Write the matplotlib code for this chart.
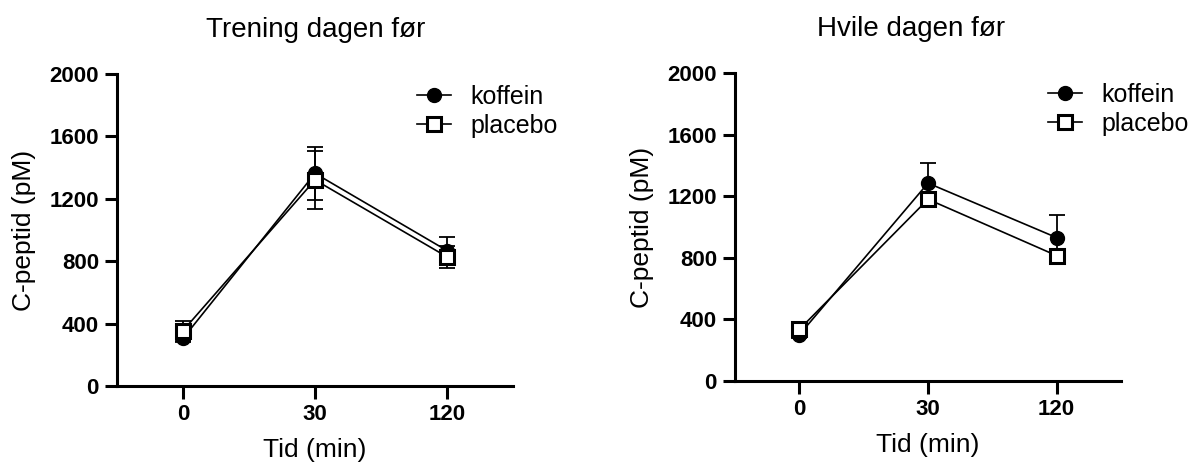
import matplotlib
matplotlib.use("Agg")
import matplotlib.pyplot as plt
import numpy as np

plt.rcParams['font.family'] = ['Liberation Sans', 'DejaVu Sans']

# ---- data ----
time_labels = ["0", "30", "120"]
series_names = ["koffein", "placebo"]

titles = ["Trening dagen før", "Hvile dagen før"]

# Panel 1: Trening dagen før
train_koffein = [305, 1363, 868]
train_koffein_sem = [20, 171, 85]
train_placebo = [355, 1321, 828]
train_placebo_sem = [64, 187, 72]

# Panel 2: Hvile dagen før
rest_koffein = [300, 1285, 931]
rest_koffein_sem = [20, 133, 147]
rest_placebo = [335, 1180, 814]
rest_placebo_sem = [20, 30, 45]

y_ticks = [0, 400, 800, 1200, 1600, 2000]

W, H = 1197, 468
fig = plt.figure(figsize=(W / 100, H / 100), dpi=100)

panels = [
    dict(rect=(117, 74, 513, 386), k=train_koffein, ke=train_koffein_sem,
         p=train_placebo, pe=train_placebo_sem, title=titles[0], tx=0.5025,
         leg=(0.757, 0.965)),
    dict(rect=(735, 73, 1121, 381), k=rest_koffein, ke=rest_koffein_sem,
         p=rest_placebo, pe=rest_placebo_sem, title=titles[1], tx=0.456,
         leg=(0.811, 0.969)),
]

for pn in panels:
    x0, y0, x1, y1 = pn['rect']
    ax = fig.add_axes([x0 / W, (H - y1) / H, (x1 - x0) / W, (y1 - y0) / H])
    x = np.arange(len(time_labels))
    # error bars (behind markers)
    ax.errorbar(x, pn['k'], yerr=pn['ke'], fmt='none', ecolor='black',
                elinewidth=1.3, capsize=6, capthick=1.3, zorder=2, clip_on=False)
    ax.errorbar(x, pn['p'], yerr=pn['pe'], fmt='none', ecolor='black',
                elinewidth=1.3, capsize=6, capthick=1.3, zorder=2, clip_on=False)
    ax.plot(x, pn['k'], color='black', lw=1.2, marker='o', markersize=10,
            markerfacecolor='black', markeredgecolor='black', zorder=3,
            label=series_names[0], clip_on=False)
    ax.plot(x, pn['p'], color='black', lw=1.2, marker='s', markersize=9.5,
            markerfacecolor='white', markeredgecolor='black', markeredgewidth=2.2,
            zorder=4, label=series_names[1], clip_on=False)

    ax.set_xlim(-0.5, 2.5)
    ax.set_ylim(0, 2000)
    ax.set_xticks(x)
    ax.set_xticklabels(time_labels)
    ax.set_yticks(y_ticks)
    for s in ['top', 'right']:
        ax.spines[s].set_visible(False)
    for s in ['left', 'bottom']:
        ax.spines[s].set_linewidth(2.2)
    ax.tick_params(axis='both', width=2.2, length=9, labelsize=16, pad=4)
    for lab in ax.get_xticklabels() + ax.get_yticklabels():
        lab.set_fontweight('bold')
    ax.set_xlabel("Tid (min)", fontsize=19, labelpad=9)
    ax.set_ylabel("C-peptid (pM)", fontsize=19, labelpad=10)
    ax.set_title(pn['title'], fontsize=20, x=pn['tx'], pad=27)
    ax.legend(loc='upper left', bbox_to_anchor=pn['leg'], frameon=False,
              fontsize=18, handlelength=1.35, handletextpad=0.8,
              labelspacing=0.2, borderpad=0, borderaxespad=0)

fig.savefig("out.png", dpi=100)
